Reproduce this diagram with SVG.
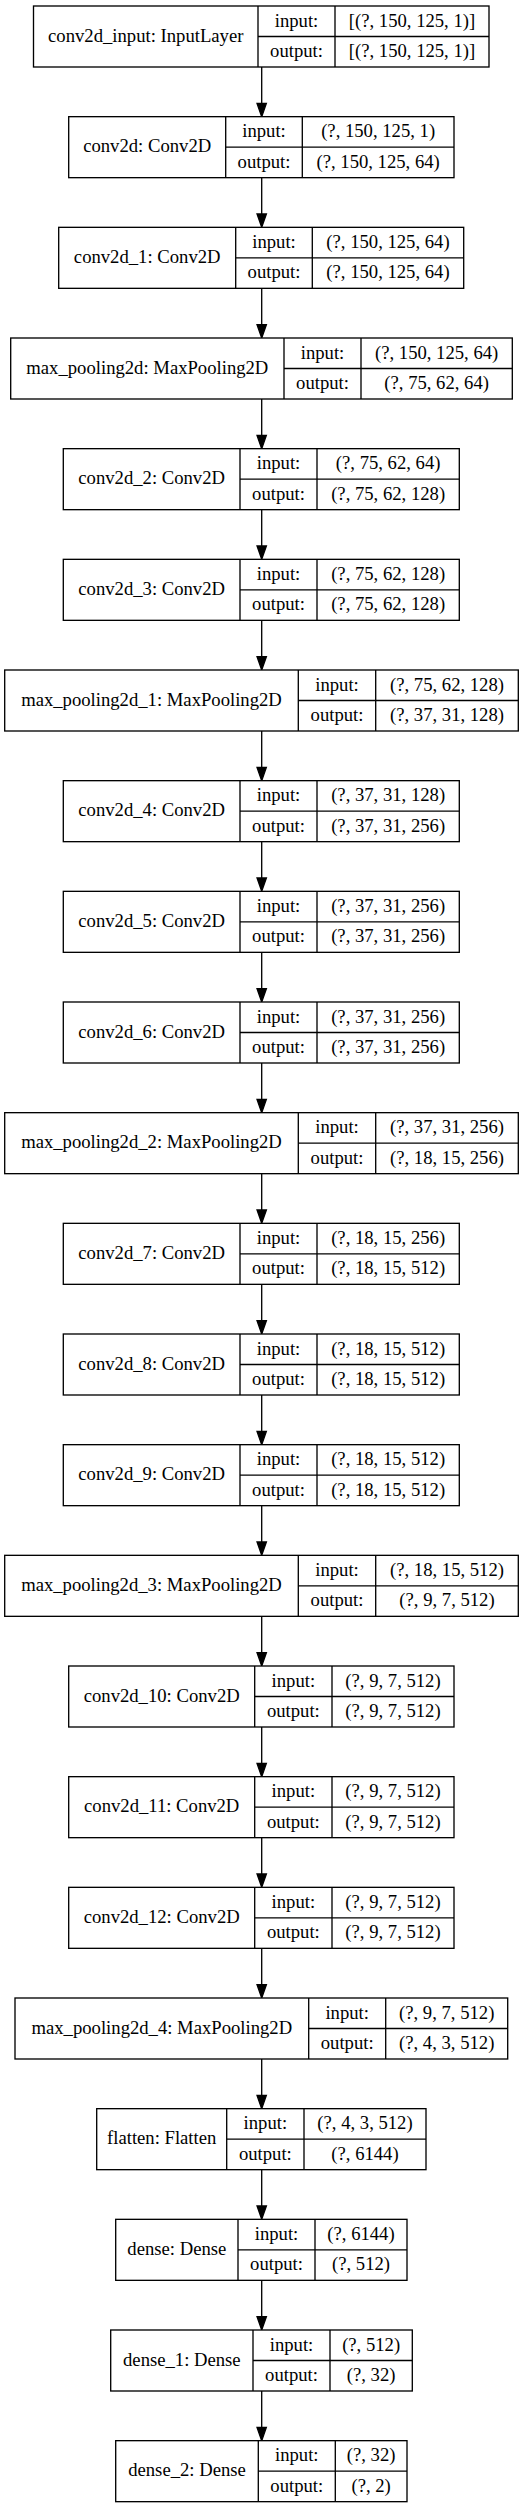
<svg xmlns="http://www.w3.org/2000/svg" width="525" height="2508" viewBox="0 0 525 2508">
<style>
.n rect{fill:#fff;stroke:#000;stroke-width:1.33}
.n line{stroke:#000;stroke-width:1.33}
.n text{font-family:"Liberation Serif","Times New Roman",serif;font-size:18.67px;text-anchor:middle;fill:#000}
.e line{stroke:#000;stroke-width:1.33}
.e polygon{fill:#000;stroke:#000;stroke-width:1.33}
</style>
<rect x="0" y="0" width="525" height="2508" fill="#fff"/>
<g class="e" id="connectors">
<line x1="261.7" y1="67" x2="261.7" y2="103.37"/><polygon points="266.37,103.37 261.7,116.67 257.03,103.37"/>
<line x1="261.7" y1="177.67" x2="261.7" y2="214.03"/><polygon points="266.37,214.03 261.7,227.33 257.03,214.03"/>
<line x1="261.7" y1="288.33" x2="261.7" y2="324.7"/><polygon points="266.37,324.7 261.7,338 257.03,324.7"/>
<line x1="261.7" y1="399" x2="261.7" y2="435.37"/><polygon points="266.37,435.37 261.7,448.67 257.03,435.37"/>
<line x1="261.7" y1="509.67" x2="261.7" y2="546.03"/><polygon points="266.37,546.03 261.7,559.33 257.03,546.03"/>
<line x1="261.7" y1="620.33" x2="261.7" y2="656.7"/><polygon points="266.37,656.7 261.7,670 257.03,656.7"/>
<line x1="261.7" y1="731" x2="261.7" y2="767.37"/><polygon points="266.37,767.37 261.7,780.67 257.03,767.37"/>
<line x1="261.7" y1="841.67" x2="261.7" y2="878.03"/><polygon points="266.37,878.03 261.7,891.33 257.03,878.03"/>
<line x1="261.7" y1="952.33" x2="261.7" y2="988.7"/><polygon points="266.37,988.7 261.7,1002 257.03,988.7"/>
<line x1="261.7" y1="1063" x2="261.7" y2="1099.37"/><polygon points="266.37,1099.37 261.7,1112.67 257.03,1099.37"/>
<line x1="261.7" y1="1173.67" x2="261.7" y2="1210.03"/><polygon points="266.37,1210.03 261.7,1223.33 257.03,1210.03"/>
<line x1="261.7" y1="1284.33" x2="261.7" y2="1320.7"/><polygon points="266.37,1320.7 261.7,1334 257.03,1320.7"/>
<line x1="261.7" y1="1395" x2="261.7" y2="1431.37"/><polygon points="266.37,1431.37 261.7,1444.67 257.03,1431.37"/>
<line x1="261.7" y1="1505.67" x2="261.7" y2="1542.03"/><polygon points="266.37,1542.03 261.7,1555.33 257.03,1542.03"/>
<line x1="261.7" y1="1616.33" x2="261.7" y2="1652.7"/><polygon points="266.37,1652.7 261.7,1666 257.03,1652.7"/>
<line x1="261.7" y1="1727" x2="261.7" y2="1763.37"/><polygon points="266.37,1763.37 261.7,1776.67 257.03,1763.37"/>
<line x1="261.7" y1="1837.67" x2="261.7" y2="1874.03"/><polygon points="266.37,1874.03 261.7,1887.33 257.03,1874.03"/>
<line x1="261.7" y1="1948.33" x2="261.7" y2="1984.7"/><polygon points="266.37,1984.7 261.7,1998 257.03,1984.7"/>
<line x1="261.7" y1="2059" x2="261.7" y2="2095.37"/><polygon points="266.37,2095.37 261.7,2108.67 257.03,2095.37"/>
<line x1="261.7" y1="2169.67" x2="261.7" y2="2206.03"/><polygon points="266.37,2206.03 261.7,2219.33 257.03,2206.03"/>
<line x1="261.7" y1="2280.33" x2="261.7" y2="2316.7"/><polygon points="266.37,2316.7 261.7,2330 257.03,2316.7"/>
<line x1="261.7" y1="2391" x2="261.7" y2="2427.37"/><polygon points="266.37,2427.37 261.7,2440.67 257.03,2427.37"/>
</g>

<g class="n" id="conv2d_input" transform="translate(0,6)">
<rect x="33.5" y="0" width="455.5" height="61"/><line x1="258" y1="0" x2="258" y2="61"/><line x1="335" y1="0" x2="335" y2="61"/><line x1="258" y1="30.5" x2="489" y2="30.5"/>
<text x="145.75" y="35.5">conv2d_input: InputLayer</text><text x="296.5" y="20.5">input:</text><text x="296.5" y="51">output:</text><text x="412" y="20.5">[(?, 150, 125, 1)]</text><text x="412" y="51">[(?, 150, 125, 1)]</text>
</g>
<g class="n" id="conv2d" transform="translate(0,116.67)">
<rect x="68.7" y="0" width="385.3" height="61"/><line x1="225.7" y1="0" x2="225.7" y2="61"/><line x1="302.3" y1="0" x2="302.3" y2="61"/><line x1="225.7" y1="30.5" x2="454" y2="30.5"/>
<text x="147.2" y="35.5">conv2d: Conv2D</text><text x="264" y="20.5">input:</text><text x="264" y="51">output:</text><text x="378.15" y="20.5">(?, 150, 125, 1)</text><text x="378.15" y="51">(?, 150, 125, 64)</text>
</g>
<g class="n" id="conv2d_1" transform="translate(0,227.33)">
<rect x="58.7" y="0" width="405" height="61"/><line x1="235.7" y1="0" x2="235.7" y2="61"/><line x1="312.3" y1="0" x2="312.3" y2="61"/><line x1="235.7" y1="30.5" x2="463.7" y2="30.5"/>
<text x="147.2" y="35.5">conv2d_1: Conv2D</text><text x="274" y="20.5">input:</text><text x="274" y="51">output:</text><text x="388" y="20.5">(?, 150, 125, 64)</text><text x="388" y="51">(?, 150, 125, 64)</text>
</g>
<g class="n" id="max_pooling2d" transform="translate(0,338)">
<rect x="10.7" y="0" width="501.6" height="61"/><line x1="284" y1="0" x2="284" y2="61"/><line x1="361" y1="0" x2="361" y2="61"/><line x1="284" y1="30.5" x2="512.3" y2="30.5"/>
<text x="147.35" y="35.5">max_pooling2d: MaxPooling2D</text><text x="322.5" y="20.5">input:</text><text x="322.5" y="51">output:</text><text x="436.65" y="20.5">(?, 150, 125, 64)</text><text x="436.65" y="51">(?, 75, 62, 64)</text>
</g>
<g class="n" id="conv2d_2" transform="translate(0,448.67)">
<rect x="63.3" y="0" width="396" height="61"/><line x1="240" y1="0" x2="240" y2="61"/><line x1="317" y1="0" x2="317" y2="61"/><line x1="240" y1="30.5" x2="459.3" y2="30.5"/>
<text x="151.65" y="35.5">conv2d_2: Conv2D</text><text x="278.5" y="20.5">input:</text><text x="278.5" y="51">output:</text><text x="388.15" y="20.5">(?, 75, 62, 64)</text><text x="388.15" y="51">(?, 75, 62, 128)</text>
</g>
<g class="n" id="conv2d_3" transform="translate(0,559.33)">
<rect x="63.3" y="0" width="396" height="61"/><line x1="240" y1="0" x2="240" y2="61"/><line x1="317" y1="0" x2="317" y2="61"/><line x1="240" y1="30.5" x2="459.3" y2="30.5"/>
<text x="151.65" y="35.5">conv2d_3: Conv2D</text><text x="278.5" y="20.5">input:</text><text x="278.5" y="51">output:</text><text x="388.15" y="20.5">(?, 75, 62, 128)</text><text x="388.15" y="51">(?, 75, 62, 128)</text>
</g>
<g class="n" id="max_pooling2d_1" transform="translate(0,670)">
<rect x="4.7" y="0" width="513.6" height="61"/><line x1="298.3" y1="0" x2="298.3" y2="61"/><line x1="375.7" y1="0" x2="375.7" y2="61"/><line x1="298.3" y1="30.5" x2="518.3" y2="30.5"/>
<text x="151.5" y="35.5">max_pooling2d_1: MaxPooling2D</text><text x="337" y="20.5">input:</text><text x="337" y="51">output:</text><text x="447" y="20.5">(?, 75, 62, 128)</text><text x="447" y="51">(?, 37, 31, 128)</text>
</g>
<g class="n" id="conv2d_4" transform="translate(0,780.67)">
<rect x="63.3" y="0" width="396" height="61"/><line x1="240" y1="0" x2="240" y2="61"/><line x1="317" y1="0" x2="317" y2="61"/><line x1="240" y1="30.5" x2="459.3" y2="30.5"/>
<text x="151.65" y="35.5">conv2d_4: Conv2D</text><text x="278.5" y="20.5">input:</text><text x="278.5" y="51">output:</text><text x="388.15" y="20.5">(?, 37, 31, 128)</text><text x="388.15" y="51">(?, 37, 31, 256)</text>
</g>
<g class="n" id="conv2d_5" transform="translate(0,891.33)">
<rect x="63.3" y="0" width="396" height="61"/><line x1="240" y1="0" x2="240" y2="61"/><line x1="317" y1="0" x2="317" y2="61"/><line x1="240" y1="30.5" x2="459.3" y2="30.5"/>
<text x="151.65" y="35.5">conv2d_5: Conv2D</text><text x="278.5" y="20.5">input:</text><text x="278.5" y="51">output:</text><text x="388.15" y="20.5">(?, 37, 31, 256)</text><text x="388.15" y="51">(?, 37, 31, 256)</text>
</g>
<g class="n" id="conv2d_6" transform="translate(0,1002)">
<rect x="63.3" y="0" width="396" height="61"/><line x1="240" y1="0" x2="240" y2="61"/><line x1="317" y1="0" x2="317" y2="61"/><line x1="240" y1="30.5" x2="459.3" y2="30.5"/>
<text x="151.65" y="35.5">conv2d_6: Conv2D</text><text x="278.5" y="20.5">input:</text><text x="278.5" y="51">output:</text><text x="388.15" y="20.5">(?, 37, 31, 256)</text><text x="388.15" y="51">(?, 37, 31, 256)</text>
</g>
<g class="n" id="max_pooling2d_2" transform="translate(0,1112.67)">
<rect x="4.7" y="0" width="513.6" height="61"/><line x1="298.3" y1="0" x2="298.3" y2="61"/><line x1="375.7" y1="0" x2="375.7" y2="61"/><line x1="298.3" y1="30.5" x2="518.3" y2="30.5"/>
<text x="151.5" y="35.5">max_pooling2d_2: MaxPooling2D</text><text x="337" y="20.5">input:</text><text x="337" y="51">output:</text><text x="447" y="20.5">(?, 37, 31, 256)</text><text x="447" y="51">(?, 18, 15, 256)</text>
</g>
<g class="n" id="conv2d_7" transform="translate(0,1223.33)">
<rect x="63.3" y="0" width="396" height="61"/><line x1="240" y1="0" x2="240" y2="61"/><line x1="317" y1="0" x2="317" y2="61"/><line x1="240" y1="30.5" x2="459.3" y2="30.5"/>
<text x="151.65" y="35.5">conv2d_7: Conv2D</text><text x="278.5" y="20.5">input:</text><text x="278.5" y="51">output:</text><text x="388.15" y="20.5">(?, 18, 15, 256)</text><text x="388.15" y="51">(?, 18, 15, 512)</text>
</g>
<g class="n" id="conv2d_8" transform="translate(0,1334)">
<rect x="63.3" y="0" width="396" height="61"/><line x1="240" y1="0" x2="240" y2="61"/><line x1="317" y1="0" x2="317" y2="61"/><line x1="240" y1="30.5" x2="459.3" y2="30.5"/>
<text x="151.65" y="35.5">conv2d_8: Conv2D</text><text x="278.5" y="20.5">input:</text><text x="278.5" y="51">output:</text><text x="388.15" y="20.5">(?, 18, 15, 512)</text><text x="388.15" y="51">(?, 18, 15, 512)</text>
</g>
<g class="n" id="conv2d_9" transform="translate(0,1444.67)">
<rect x="63.3" y="0" width="396" height="61"/><line x1="240" y1="0" x2="240" y2="61"/><line x1="317" y1="0" x2="317" y2="61"/><line x1="240" y1="30.5" x2="459.3" y2="30.5"/>
<text x="151.65" y="35.5">conv2d_9: Conv2D</text><text x="278.5" y="20.5">input:</text><text x="278.5" y="51">output:</text><text x="388.15" y="20.5">(?, 18, 15, 512)</text><text x="388.15" y="51">(?, 18, 15, 512)</text>
</g>
<g class="n" id="max_pooling2d_3" transform="translate(0,1555.33)">
<rect x="4.7" y="0" width="513.6" height="61"/><line x1="298.3" y1="0" x2="298.3" y2="61"/><line x1="375.7" y1="0" x2="375.7" y2="61"/><line x1="298.3" y1="30.5" x2="518.3" y2="30.5"/>
<text x="151.5" y="35.5">max_pooling2d_3: MaxPooling2D</text><text x="337" y="20.5">input:</text><text x="337" y="51">output:</text><text x="447" y="20.5">(?, 18, 15, 512)</text><text x="447" y="51">(?, 9, 7, 512)</text>
</g>
<g class="n" id="conv2d_10" transform="translate(0,1666)">
<rect x="68.7" y="0" width="385.3" height="61"/><line x1="254.7" y1="0" x2="254.7" y2="61"/><line x1="332" y1="0" x2="332" y2="61"/><line x1="254.7" y1="30.5" x2="454" y2="30.5"/>
<text x="161.7" y="35.5">conv2d_10: Conv2D</text><text x="293.35" y="20.5">input:</text><text x="293.35" y="51">output:</text><text x="393" y="20.5">(?, 9, 7, 512)</text><text x="393" y="51">(?, 9, 7, 512)</text>
</g>
<g class="n" id="conv2d_11" transform="translate(0,1776.67)">
<rect x="68.7" y="0" width="385.3" height="61"/><line x1="254.7" y1="0" x2="254.7" y2="61"/><line x1="332" y1="0" x2="332" y2="61"/><line x1="254.7" y1="30.5" x2="454" y2="30.5"/>
<text x="161.7" y="35.5">conv2d_11: Conv2D</text><text x="293.35" y="20.5">input:</text><text x="293.35" y="51">output:</text><text x="393" y="20.5">(?, 9, 7, 512)</text><text x="393" y="51">(?, 9, 7, 512)</text>
</g>
<g class="n" id="conv2d_12" transform="translate(0,1887.33)">
<rect x="68.7" y="0" width="385.3" height="61"/><line x1="254.7" y1="0" x2="254.7" y2="61"/><line x1="332" y1="0" x2="332" y2="61"/><line x1="254.7" y1="30.5" x2="454" y2="30.5"/>
<text x="161.7" y="35.5">conv2d_12: Conv2D</text><text x="293.35" y="20.5">input:</text><text x="293.35" y="51">output:</text><text x="393" y="20.5">(?, 9, 7, 512)</text><text x="393" y="51">(?, 9, 7, 512)</text>
</g>
<g class="n" id="max_pooling2d_4" transform="translate(0,1998)">
<rect x="15" y="0" width="492.7" height="61"/><line x1="308.7" y1="0" x2="308.7" y2="61"/><line x1="385.7" y1="0" x2="385.7" y2="61"/><line x1="308.7" y1="30.5" x2="507.7" y2="30.5"/>
<text x="161.85" y="35.5">max_pooling2d_4: MaxPooling2D</text><text x="347.2" y="20.5">input:</text><text x="347.2" y="51">output:</text><text x="446.7" y="20.5">(?, 9, 7, 512)</text><text x="446.7" y="51">(?, 4, 3, 512)</text>
</g>
<g class="n" id="flatten" transform="translate(0,2108.67)">
<rect x="96.7" y="0" width="329.3" height="61"/><line x1="226.7" y1="0" x2="226.7" y2="61"/><line x1="304" y1="0" x2="304" y2="61"/><line x1="226.7" y1="30.5" x2="426" y2="30.5"/>
<text x="161.7" y="35.5">flatten: Flatten</text><text x="265.35" y="20.5">input:</text><text x="265.35" y="51">output:</text><text x="365" y="20.5">(?, 4, 3, 512)</text><text x="365" y="51">(?, 6144)</text>
</g>
<g class="n" id="dense" transform="translate(0,2219.33)">
<rect x="115.7" y="0" width="291.3" height="61"/><line x1="238" y1="0" x2="238" y2="61"/><line x1="315" y1="0" x2="315" y2="61"/><line x1="238" y1="30.5" x2="407" y2="30.5"/>
<text x="176.85" y="35.5">dense: Dense</text><text x="276.5" y="20.5">input:</text><text x="276.5" y="51">output:</text><text x="361" y="20.5">(?, 6144)</text><text x="361" y="51">(?, 512)</text>
</g>
<g class="n" id="dense_1" transform="translate(0,2330)">
<rect x="110.7" y="0" width="301.6" height="61"/><line x1="253" y1="0" x2="253" y2="61"/><line x1="330" y1="0" x2="330" y2="61"/><line x1="253" y1="30.5" x2="412.3" y2="30.5"/>
<text x="181.85" y="35.5">dense_1: Dense</text><text x="291.5" y="20.5">input:</text><text x="291.5" y="51">output:</text><text x="371.15" y="20.5">(?, 512)</text><text x="371.15" y="51">(?, 32)</text>
</g>
<g class="n" id="dense_2" transform="translate(0,2440.67)">
<rect x="115.7" y="0" width="291.3" height="61"/><line x1="258.3" y1="0" x2="258.3" y2="61"/><line x1="335.3" y1="0" x2="335.3" y2="61"/><line x1="258.3" y1="30.5" x2="407" y2="30.5"/>
<text x="187" y="35.5">dense_2: Dense</text><text x="296.8" y="20.5">input:</text><text x="296.8" y="51">output:</text><text x="371.15" y="20.5">(?, 32)</text><text x="371.15" y="51">(?, 2)</text>
</g>
</svg>
